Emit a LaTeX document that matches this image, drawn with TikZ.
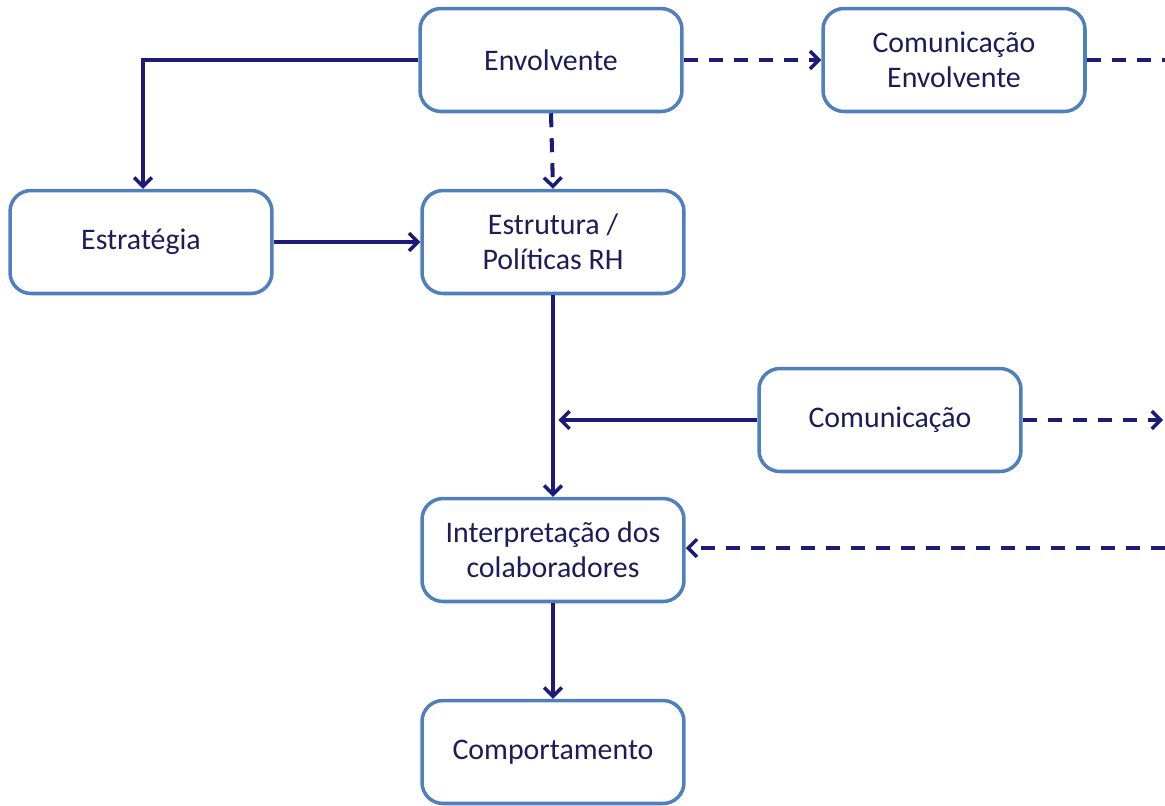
\documentclass[tikz,border=0pt]{standalone}
\usepackage{fontspec}
\setmainfont{Carlito}
\usetikzlibrary{arrows.meta}
\definecolor{boxblue}{HTML}{4F7FBC}
\definecolor{navy}{HTML}{1C1C78}
\definecolor{textnavy}{HTML}{1C1C5A}
\tikzset{>={Straight Barb[length=5pt,width=10pt,line width=2pt]}}
\tikzset{
  stage/.style={draw=boxblue, line width=2pt, rounded corners=0.42cm,
    minimum width=5.24cm, minimum height=2.06cm, align=center,
    text=textnavy, font=\fontsize{17}{20}\selectfont, inner sep=0pt},
  flow/.style={draw=navy, line width=2.3pt},
  flowdash/.style={flow, dash pattern=on 0.28cm off 0.22cm}
}

\begin{document}
\begin{tikzpicture}[x=0.02cm, y=-0.02cm]
\useasboundingbox (0, 0) rectangle (1165, 805);
\node[stage] (env) at (551, 60) {Envolvente};
\node[stage] (comenv) at (954, 60) {Comunicação\\Envolvente};
\node[stage] (estr) at (141, 242) {Estratégia};
\node[stage] (pol) at (553, 242) {Estrutura /\\Políticas RH};
\node[stage] (com) at (890, 420) {Comunicação};
\node[stage] (interp) at (553, 550) {Interpretação dos\\colaboradores};
\node[stage] (comp) at (553, 752) {Comportamento};
\coordinate (corner) at (143, 60);
\coordinate (join) at (553, 420);
\coordinate (edgetop) at (1165, 60);
\coordinate (edgemid) at (1163, 420);
\coordinate (edgelow) at (1165, 548);
\draw[flow, ->] (env.west) -- (corner) -- (corner |- estr.north);
\draw[flowdash, ->] (env.south) -- (pol.north);
\draw[flowdash, ->] (env.east) -- (comenv.west);
\draw[flowdash] (comenv.east) -- (edgetop);
\draw[flow, ->] (estr.east) -- (pol.west);
\draw[flow, ->] (pol.south) -- (interp.north);
\draw[flow, ->] (com.west) -- ([xshift=3]join);
\draw[flowdash, ->] (com.east) -- (edgemid);
\draw[flowdash, ->] (edgelow) -- (interp.east |- edgelow);
\draw[flow, ->] (interp.south) -- (comp.north);
\end{tikzpicture}
\end{document}
